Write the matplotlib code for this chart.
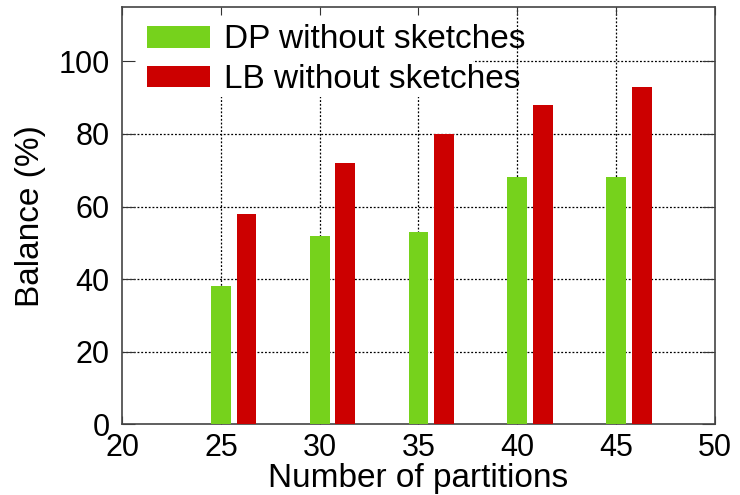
import matplotlib
matplotlib.use("Agg")
import matplotlib.pyplot as plt
from matplotlib.patches import Patch, Rectangle

plt.rcParams['font.family'] = ['Liberation Sans', 'DejaVu Sans']

partitions = [25, 30, 35, 40, 45]
dp_balance = [38, 52, 53, 68, 68]
lb_balance = [58, 72, 80, 88, 93]
x_ticks = [20, 25, 30, 35, 40, 45, 50]
y_ticks = [0, 20, 40, 60, 80, 100]

green = '#76D21C'
red = '#CC0000'
bar_w = 1.0
offset = 1.3

fig = plt.figure(figsize=(7.4, 4.95), dpi=100)
ax = fig.add_axes([0.165, 0.143, 0.801, 0.843])

ax.bar(partitions, dp_balance, width=bar_w, color=green, zorder=3)
ax.bar([p + offset for p in partitions], lb_balance, width=bar_w, color=red, zorder=3)

ax.set_xlim(20, 50)
ax.set_ylim(0, 115)
ax.set_xticks(x_ticks)
ax.set_yticks(y_ticks)
ax.tick_params(direction='in', top=True, right=True, labelsize=22, color='#333333')
ax.tick_params(axis='x', length=6, pad=6)
ax.tick_params(axis='y', length=9.5, pad=9)

for v in x_ticks[1:-1]:
    ax.axvline(v, color='black', linestyle=(0, (1.5, 1.5)), linewidth=0.9, zorder=1)
for v in y_ticks[1:]:
    ax.axhline(v, color='black', linestyle=(0, (1.5, 1.5)), linewidth=0.9, zorder=1)

# opaque key area (covers the grid behind the key)
ax.add_patch(Rectangle((20, 90.2), 17.75, 24.8, facecolor='white', edgecolor='none',
                       zorder=1.5))

for s in ax.spines.values():
    s.set_color('#444444')
    s.set_linewidth(1.2)

ax.set_xlabel('Number of partitions', fontsize=24, labelpad=0)
ax.set_ylabel('Balance (%)', fontsize=24, labelpad=9)

handles = [Patch(facecolor=green, label='DP without sketches'),
           Patch(facecolor=red, label='LB without sketches')]
leg = ax.legend(handles=handles, loc='upper left', bbox_to_anchor=(0.042, 0.958),
                fontsize=24, frameon=False, handlelength=1.9, handleheight=0.62,
                handletextpad=0.42, labelspacing=0.26, borderaxespad=0, borderpad=0)
leg.set_zorder(5)

fig.savefig('out.png', dpi=100)
